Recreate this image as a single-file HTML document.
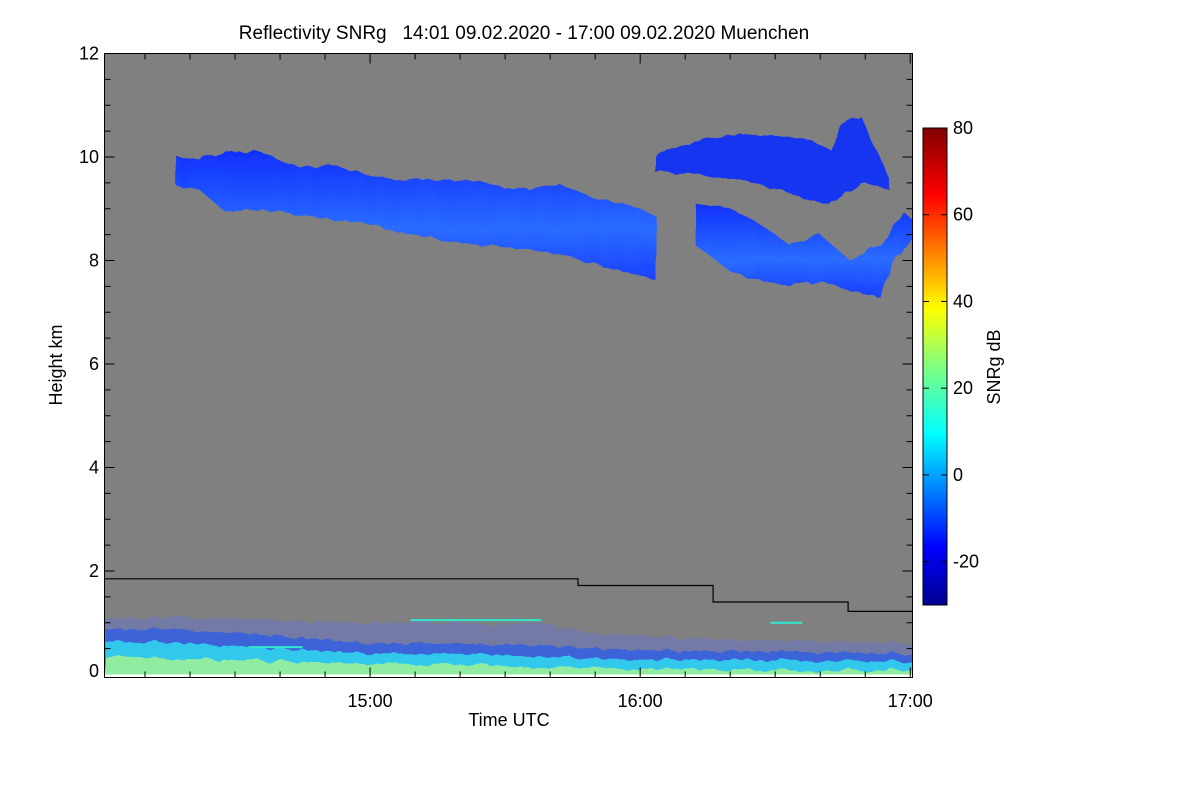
<!DOCTYPE html>
<html><head><meta charset="utf-8">
<style>
html,body{margin:0;padding:0;background:#fff;}
svg{display:block;font-family:"Liberation Sans",sans-serif;}
</style></head>
<body>
<svg id="chart" width="1200" height="800" viewBox="0 0 1200 800">
<defs>
<linearGradient id="jet" x1="0" y1="1" x2="0" y2="0">
<stop offset="0" stop-color="#00008f"/>
<stop offset="0.12" stop-color="#0000ff"/>
<stop offset="0.36" stop-color="#00ffff"/>
<stop offset="0.5" stop-color="#7fff7f"/>
<stop offset="0.62" stop-color="#ffff00"/>
<stop offset="0.86" stop-color="#ff0000"/>
<stop offset="1" stop-color="#800000"/>
</linearGradient>
<linearGradient id="cloudg" x1="0" y1="0" x2="0" y2="1">
<stop offset="0" stop-color="#1030ff"/>
<stop offset="0.6" stop-color="#2a6cff"/>
<stop offset="1" stop-color="#1a40ff"/>
</linearGradient>
<filter id="rough"><feTurbulence type="fractalNoise" baseFrequency="0.08 0.02" numOctaves="2" seed="3"/><feDisplacementMap in="SourceGraphic" scale="8"/></filter>
<clipPath id="plotclip"><rect x="104.5" y="53.5" width="808" height="621"/></clipPath>
</defs>
<text x="524" y="39" font-size="19" text-anchor="middle" fill="#000" xml:space="preserve">Reflectivity SNRg   14:01 09.02.2020 - 17:00 09.02.2020 Muenchen</text>
<rect x="104.5" y="53.5" width="808" height="621" fill="#808080"/>
<g id="marks" clip-path="url(#plotclip)"></g>
<g id="axes"></g>
<text x="509" y="726" font-size="18" text-anchor="middle">Time UTC</text>
<text transform="translate(62,365) rotate(-90)" font-size="18" text-anchor="middle">Height km</text>
<rect x="923" y="128" width="24" height="477" fill="url(#jet)" stroke="#000" stroke-width="1"/>
<text transform="translate(1000,367) rotate(-90)" font-size="18" text-anchor="middle">SNRg dB</text>
<g id="cbaxis"></g>
</svg>
<script>
const xTicks = [60, 120, 180];
const xTickLabels = ["15:00", "16:00", "17:00"];
const yTicks = [0, 2, 4, 6, 8, 10, 12];
const cbTicks = [-20, 0, 20, 40, 60, 80];
const mainTime = [16.7, 22.2, 27.8, 35.6, 44.4, 51, 60, 66.7, 75.6, 84.4, 93.3, 102.2, 111.1, 117.8, 123.3];
const mainTop =  [10.04, 9.94, 10.1, 10.1, 9.79, 9.85, 9.65, 9.56, 9.56, 9.52, 9.36, 9.46, 9.17, 9.07, 8.88];
const mainBase = [9.46, 9.36, 8.94, 8.98, 8.88, 8.78, 8.69, 8.55, 8.40, 8.30, 8.24, 8.11, 7.91, 7.78, 7.63];
const upperTime = [123.3, 133.3, 142.2, 151.1, 157.8, 162.2, 165.6, 168.9, 172.3, 175.7];
const upperTop =  [10.04, 10.33, 10.46, 10.39, 10.33, 10.14, 10.75, 10.80, 10.14, 9.56];
const upperBase = [9.71, 9.65, 9.56, 9.36, 9.17, 9.07, 9.30, 9.50, 9.46, 9.33];
const lowerTime = [132.2, 140, 146.7, 153.3, 160, 166.7, 173.3, 176, 178.9, 180.4];
const lowerTop =  [9.10, 9.00, 8.70, 8.30, 8.50, 8.00, 8.30, 8.70, 8.90, 8.80];
const lowerBase = [8.30, 7.80, 7.60, 7.50, 7.60, 7.40, 7.30, 7.90, 8.30, 8.40];
const clutterTime = [1, 20, 40, 60, 80, 100, 110, 130, 150, 180.5];
const clutterSparse = [1.1, 1.1, 1.05, 1.0, 1.0, 0.95, 0.8, 0.7, 0.65, 0.6];
const clutterBlue = [0.9, 0.85, 0.75, 0.6, 0.6, 0.55, 0.5, 0.45, 0.45, 0.4];
const clutterCyan = [0.65, 0.6, 0.5, 0.4, 0.4, 0.35, 0.3, 0.28, 0.28, 0.25];
const clutterGreen = [0.35, 0.3, 0.25, 0.2, 0.2, 0.15, 0.12, 0.1, 0.08, 0.08];
const boundaryTime = [1, 106.2, 136.2, 166.2, 180.5];
const boundaryHeight = [1.85, 1.72, 1.40, 1.22];

const NS = "http://www.w3.org/2000/svg";
const X0 = 104.5, X1 = 912.5, Y0 = 674.5, PXKM = 51.75;
function xs(m){ return X0 + (m - 1) / 179.5 * (X1 - X0); }
function ys(h){ return Y0 - h * PXKM; }
function cby(v){ return 605 - (v + 30) / 110 * 477; }
function mk(tag, attrs, parent){
  const e = document.createElementNS(NS, tag);
  for (const k in attrs) e.setAttribute(k, attrs[k]);
  parent.appendChild(e); return e;
}
const marks = document.getElementById('marks');
function band(t, top, base, fill, name, filt){
  let d = "M" + t.map((m,i)=>xs(m).toFixed(1)+","+ys(top[i]).toFixed(1)).join(" L");
  for (let i = t.length-1; i >= 0; i--) d += " L" + xs(t[i]).toFixed(1) + "," + ys(base[i]).toFixed(1);
  d += " Z";
  const p = mk('path', {d: d, fill: fill}, marks);
  if (filt) p.setAttribute('filter', 'url(#rough)');
  
  
  return p;
}
const zeros = clutterTime.map(()=>-0.3);
band(clutterTime, clutterSparse, zeros, "#737aa6", "clutter-sparse", true);
band(clutterTime, clutterBlue, zeros, "#3c64d8", "clutter-blue", true);
band(clutterTime, clutterCyan, zeros, "#30c8ec", "clutter-cyan", true);
band(clutterTime, clutterGreen, zeros, "#90eca0", "clutter-green", true);
band(mainTime, mainTop, mainBase, "url(#cloudg)", "cirrus-main", true);
band(upperTime, upperTop, upperBase, "#1434f0", "cirrus-upper", true);
band(lowerTime, lowerTop, lowerBase, "url(#cloudg)", "cirrus-lower", true);
const artT0 = [33, 69, 149], artT1 = [45, 98, 156], artH = [0.53, 1.05, 1.0];
artT0.forEach((t,i)=>{
  const l = mk('line', {x1: xs(t), x2: xs(artT1[i]), y1: ys(artH[i]), y2: ys(artH[i]), stroke: "#30e8d0", "stroke-width": 2}, marks);
  
  
});
let bd = "";
boundaryHeight.forEach((h,i)=>{
  bd += (i===0 ? "M" : " L") + xs(boundaryTime[i]).toFixed(1) + "," + ys(h).toFixed(1);
  bd += " L" + xs(boundaryTime[i+1]).toFixed(1) + "," + ys(h).toFixed(1);
});
const bl = mk('path', {d: bd, fill: "none", stroke: "#000", "stroke-width": 1.2}, marks);



const axes = document.getElementById('axes');
const frame = mk('rect', {x: X0, y: 53.5, width: X1-X0, height: 624, fill: "none", stroke: "#000", "stroke-width": 1}, axes);


for (let m = 10; m <= 180; m += 10){
  const big = m % 60 === 0;
  const len = big ? 10 : 6;
  mk('line', {x1: xs(m), x2: xs(m), y1: 677.5, y2: 677.5-len, stroke:"#000"}, axes);
  mk('line', {x1: xs(m), x2: xs(m), y1: 53.5, y2: 53.5+len, stroke:"#000"}, axes);
}
xTicks.forEach((m,i)=>{
  const t = mk('text', {x: xs(m), y: 707, "font-size": 18, "text-anchor": "middle"}, axes);
  t.textContent = xTickLabels[i];
  
  
});
for (let h = 0.5; h < 12; h += 0.5){
  const len = (h % 2 === 0) ? 10 : 6;
  mk('line', {x1: X0, x2: X0+len, y1: ys(h), y2: ys(h), stroke:"#000"}, axes);
  mk('line', {x1: X1, x2: X1-len, y1: ys(h), y2: ys(h), stroke:"#000"}, axes);
}
yTicks.forEach(h=>{
  const t = mk('text', {x: 99, y: Math.min(ys(h), 671) + 6, "font-size": 18, "text-anchor": "end"}, axes);
  t.textContent = String(h);
  
  
});
const cb = document.getElementById('cbaxis');
cbTicks.forEach(v=>{
  mk('line', {x1: 947, x2: 941, y1: cby(v), y2: cby(v), stroke:"#000"}, cb);
  mk('line', {x1: 923, x2: 929, y1: cby(v), y2: cby(v), stroke:"#000"}, cb);
  const t = mk('text', {x: 953, y: cby(v) + 6, "font-size": 18}, cb);
  t.textContent = String(v);
  
  
});
</script>
</body></html>
